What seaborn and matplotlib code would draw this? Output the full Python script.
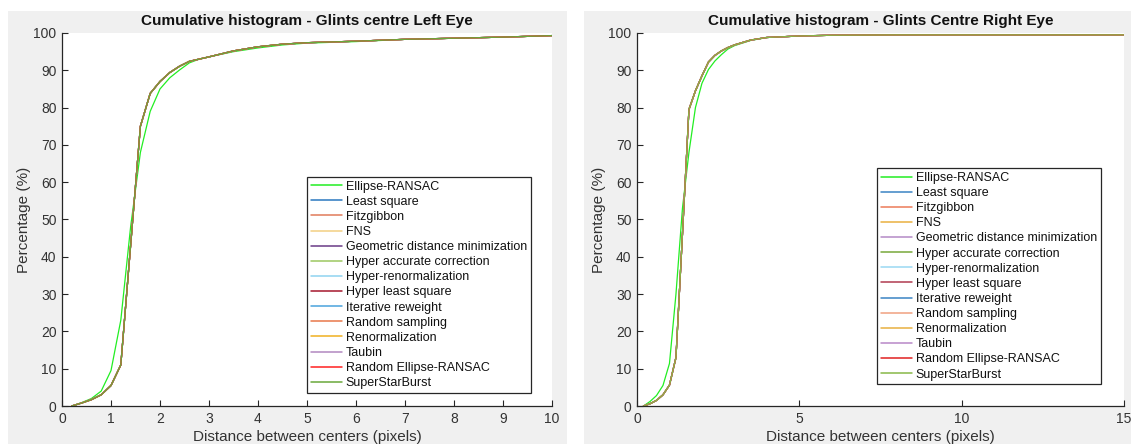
import numpy as np
import pandas as pd
import matplotlib
matplotlib.use("Agg")
import matplotlib.pyplot as plt
import seaborn as sns
from matplotlib.patches import Rectangle

sns.set_theme(style="white")
plt.rcParams['font.family'] = ['Liberation Sans', 'DejaVu Sans']

methods = [
    "Ellipse-RANSAC", "Least square", "Fitzgibbon", "FNS",
    "Geometric distance minimization", "Hyper accurate correction",
    "Hyper-renormalization", "Hyper least square", "Iterative reweight",
    "Random sampling", "Renormalization", "Taubin",
    "Random Ellipse-RANSAC", "SuperStarBurst",
]

colors_left = [
    "#22ee22", "#2a78c0", "#e07a5a", "#f2cf82", "#6a3a86", "#9cc860",
    "#8fd3f0", "#a6182e", "#4aa3dc", "#e8784a", "#f0b020", "#b288c0",
    "#ff2020", "#6aa83a",
]
colors_right = [
    "#22ee22", "#3a84c4", "#ec7a58", "#eab040", "#b48ac6", "#78a83a",
    "#9ad8f2", "#b03a50", "#3a84c4", "#f0a080", "#e8b040", "#b888c8",
    "#e02020", "#88b848",
]

# Left eye: x grid and cumulative percentages
x_left = [0.2, 0.4, 0.6, 0.8, 1.0, 1.2, 1.4, 1.6, 1.8, 2.0, 2.2, 2.4, 2.6,
          2.8, 3.0, 3.5, 4.0, 4.5, 5.0, 6.0, 7.0, 8.0, 9.0, 10.0]
cluster_left = [0.0, 0.8, 1.7, 3.0, 5.5, 11.0, 43.0, 75.0, 83.8, 87.0, 89.4,
                91.1, 92.4, 93.0, 93.6, 95.2, 96.3, 97.0, 97.4, 97.8, 98.3,
                98.6, 98.9, 99.3]
ransac_left = [0.0, 0.9, 2.0, 4.0, 9.5, 23.0, 48.0, 68.0, 79.0, 85.0, 88.0,
               90.1, 92.0, 93.0, 93.6, 95.0, 96.0, 96.8, 97.3, 97.7, 98.3,
               98.6, 98.9, 99.3]

# Right eye
x_right = [0.2, 0.4, 0.6, 0.8, 1.0, 1.2, 1.4, 1.6, 1.8, 2.0, 2.2, 2.4, 2.6,
           2.8, 3.0, 3.5, 4.0, 5.0, 6.0, 8.0, 10.0, 12.0, 15.0]
cluster_right = [0.0, 0.6, 1.5, 3.0, 5.6, 13.0, 46.0, 79.5, 84.5, 88.5, 92.2,
                 94.0, 95.2, 96.1, 96.8, 98.1, 98.8, 99.2, 99.4, 99.5, 99.5,
                 99.5, 99.5]
ransac_right = [0.0, 1.2, 2.8, 5.5, 11.4, 30.0, 53.0, 68.0, 80.0, 86.5, 90.2,
                92.5, 94.2, 95.7, 96.6, 98.0, 98.8, 99.2, 99.4, 99.5, 99.5,
                99.5, 99.5]


def build(x, ransac, cluster):
    rows = []
    for m in methods:
        ys = ransac if m == "Ellipse-RANSAC" else cluster
        for xi, yi in zip(x, ys):
            rows.append((m, xi, yi))
    return pd.DataFrame(rows, columns=["method", "x", "y"])


df_left = build(x_left, ransac_left, cluster_left)
df_right = build(x_right, ransac_right, cluster_right)

W, H = 1131, 444
fig = plt.figure(figsize=(W / 100, H / 100), dpi=100)
fig.patch.set_facecolor("white")
gray = "#f0f0f0"
bg = fig.add_axes([0, 0, 1, 1], zorder=-10)
bg.set_axis_off()
bg.set_xlim(0, W)
bg.set_ylim(H, 0)
bg.add_patch(Rectangle((8, 11), 567 - 8, H - 11, facecolor=gray,
                       edgecolor="none"))
bg.add_patch(Rectangle((584, 11), W - 584, H - 11, facecolor=gray,
                       edgecolor="none"))

ax_bottom = 1 - 406 / H
ax_h = (406 - 33) / H
ax1 = fig.add_axes([62 / W, ax_bottom, (552 - 62) / W, ax_h])
ax2 = fig.add_axes([637 / W, ax_bottom, (1124 - 637) / W, ax_h])

dark = "#262626"
configs = [
    (ax1, df_left, colors_left, "Cumulative histogram - Glints centre Left Eye",
     10, np.arange(0, 11, 1), (0.5, 0.035)),
    (ax2, df_right, colors_right, "Cumulative histogram - Glints Centre Right Eye",
     15, np.arange(0, 16, 5), (0.493, 0.058)),
]

for ax, df, cols, title, xmax, xt, anchor in configs:
    ax.set_facecolor("white")
    sns.lineplot(data=df, x="x", y="y", hue="method", hue_order=methods,
                 palette=cols, ax=ax, linewidth=0.9, estimator=None,
                 sort=False, legend=True)
    ax.set_xlim(0, xmax)
    ax.set_ylim(0, 100)
    ax.set_xticks(xt)
    ax.set_yticks(np.arange(0, 101, 10))
    for s in ["top", "right"]:
        ax.spines[s].set_visible(False)
    for s in ["left", "bottom"]:
        ax.spines[s].set_color(dark)
        ax.spines[s].set_linewidth(0.9)
    ax.tick_params(direction="in", length=4, width=0.8, colors=dark,
                   labelsize=10, labelcolor="#333333", pad=4,
                   bottom=True, left=True, top=False, right=False)
    ax.set_title(title, fontsize=11, fontweight="bold", color="#111111", pad=6)
    ax.set_xlabel("Distance between centers (pixels)", fontsize=11,
                  color="#333333", labelpad=3)
    ax.set_ylabel("Percentage (%)", fontsize=11, color="#333333", labelpad=2)
    handles, labels = ax.get_legend_handles_labels()
    leg = ax.legend(handles, labels, loc="lower left", bbox_to_anchor=anchor,
                    fontsize=9, frameon=True, fancybox=False,
                    edgecolor=dark, framealpha=1, handlelength=2.5,
                    handletextpad=0.3, labelspacing=0.25, borderpad=0.3,
                    borderaxespad=0)
    leg.get_frame().set_linewidth(0.9)
    for line in leg.get_lines():
        line.set_linewidth(1.1)
    for t in leg.get_texts():
        t.set_color("#111111")

fig.savefig("out.png", dpi=100, facecolor="white")
